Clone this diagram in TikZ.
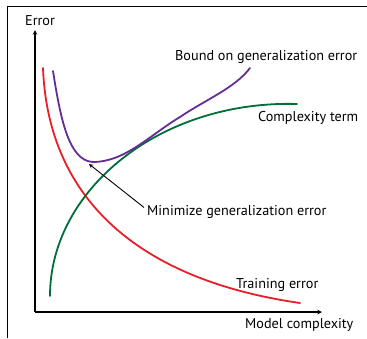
\documentclass[tikz,border=0pt]{standalone}
\usepackage{fontspec}
\setmainfont{PT Sans}
\definecolor{cred}{RGB}{232,30,40}
\definecolor{cgreen}{RGB}{0,110,55}
\definecolor{cpurple}{RGB}{100,45,150}
\begin{document}
\begin{tikzpicture}[x=1pt,y=-1pt,
  lbl/.style={font=\fontsize{14.2}{16}\selectfont, inner sep=0pt},
  curve/.style={line width=1.8pt, line cap=round, line join=round},
  axis/.style={line width=1.1pt, -stealth}]
\useasboundingbox (0,0) rectangle (367,338);
\draw[line width=0.9pt] (7,338) -- (7,6) -- (367,6);
% axes
\coordinate (o) at (35,312);
\coordinate (ytop) at (35,30);
\coordinate (xend) at (322,312);
\draw[axis] (o) -- (ytop);
\draw[axis] (o) -- (xend);
% curves
\draw[curve, cred] (43,68) .. controls (48,200) and (140,280) .. (300,303);
\draw[curve, cgreen] (50,296) .. controls (50,190) and (160,100) .. (297,104);
\draw[curve, cpurple] (53,71) .. controls (60,115) and (68,161) .. (93,162)
  .. controls (125,162) and (150,135) .. (180,117)
  .. controls (205,100) and (235,88) .. (250,68);
% labels
\node[lbl, anchor=south west] (err) at (25,26) {Error};
\node[lbl, anchor=base west] (bound) at (175,60) {Bound on generalization error};
\node[lbl, anchor=base west] (cterm) at (258,121) {Complexity term};
\node[lbl, anchor=base west] (mini) at (147,215) {Minimize generalization error};
\node[lbl, anchor=base west] (train) at (236,288) {Training error};
\node[lbl, anchor=base west] (model) at (245,328) {Model complexity};
\coordinate (minpt) at (89,164);
\draw[line width=0.9pt, -stealth] (mini.west) ++(-3,-4) -- (minpt);
\end{tikzpicture}
\end{document}
